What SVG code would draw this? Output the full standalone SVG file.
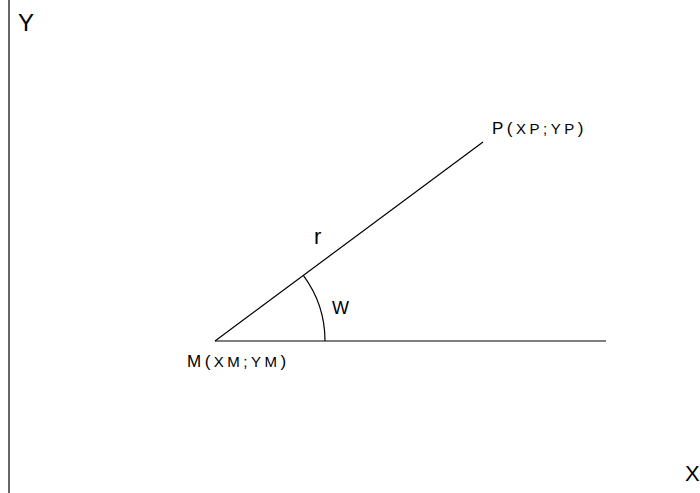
<svg xmlns="http://www.w3.org/2000/svg" width="700" height="493" viewBox="0 0 700 493">
<style>
.ln{stroke:#000;stroke-width:1.2;fill:none}
.t{font-family:"Liberation Sans",Arial,sans-serif;fill:#000}
.lab{font-size:17px;letter-spacing:3.5px}
.s{font-size:15px}
</style>
<rect width="700" height="493" fill="#fff"/>
<g id="axes">
<line class="ln" x1="9" y1="0" x2="9" y2="493"/>
<text class="t" x="18" y="31" font-size="24">Y</text>
<text class="t" x="685" y="481" font-size="22">X</text>
</g>
<g id="connectors">
<line class="ln" x1="215" y1="341" x2="606" y2="341"/>
<line class="ln" x1="215" y1="341" x2="483" y2="142"/>
<path class="ln" d="M325 341 A110 110 0 0 0 303.3 275.4"/>
</g>
<g id="node-P">
<text class="t lab" x="492" y="134">P(<tspan class="s">XP;YP</tspan>)</text>
</g>
<g id="node-M">
<text class="t lab" x="187" y="367">M(<tspan class="s">XM;YM</tspan>)</text>
</g>
<g id="label-r">
<text class="t" x="314" y="244" font-size="22">r</text>
</g>
<g id="label-W">
<text class="t" x="332" y="314" font-size="18">W</text>
</g>
</svg>
